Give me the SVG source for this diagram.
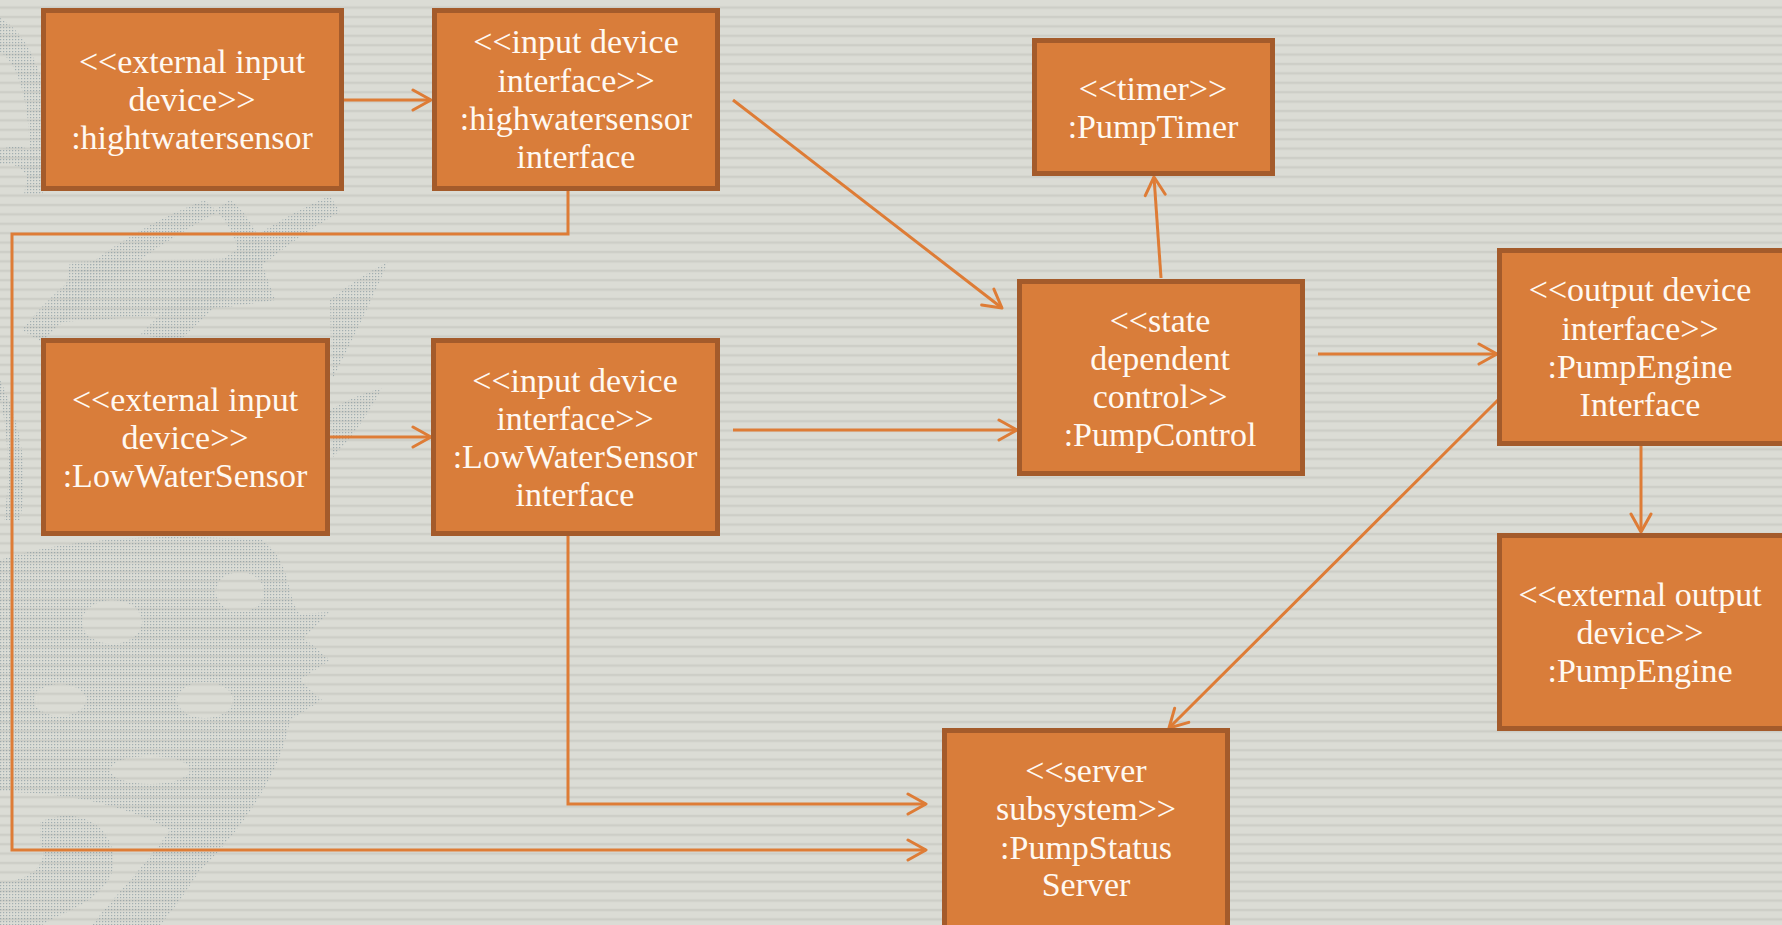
<svg xmlns="http://www.w3.org/2000/svg" width="1782" height="925" viewBox="0 0 1782 925">
  <defs>
    <pattern id="stripes" width="40" height="9.4" patternUnits="userSpaceOnUse">
      <rect width="40" height="9.4" fill="#DBDCD5"/>
      <rect y="6.4" width="40" height="2.4" fill="#CDCEC7"/>
    </pattern>
    <pattern id="dots" width="3" height="3" patternUnits="userSpaceOnUse">
      <rect width="1.2" height="1.2" fill="#7C909A"/>
    </pattern>
    <marker id="arrow" viewBox="0 0 22 24" refX="20" refY="12" markerWidth="22" markerHeight="24" markerUnits="userSpaceOnUse" orient="auto">
      <path d="M2,2 L20,12 L2,22" fill="none" stroke="#DE7C36" stroke-width="3" stroke-linecap="round" stroke-linejoin="round"/>
    </marker>
    <style>
      .box { fill: #D97D3A; stroke: #A45B2B; stroke-width: 5; }
      .label { font-family: "Liberation Serif", "Times New Roman", serif; font-size: 34px; fill: #FFF9F2; text-anchor: middle; }
      .conn { fill: none; stroke: #DE7C36; stroke-width: 3; }
      .ornament { fill: url(#dots); opacity: 0.6; }
    </style>
  </defs>

  <!-- striped backdrop -->
  <rect width="1782" height="925" fill="url(#stripes)"/>

  <!-- dotted ornament along the left edge -->
  <g id="ornament" class="ornament">
    <path d="M0,18 C40,40 62,120 42,195 L24,195 C38,130 22,64 0,52 Z"/>
    <path d="M0,150 C20,140 40,150 50,175 L30,180 C22,165 10,162 0,165 Z"/>
    <path d="M22,330 C60,282 122,232 205,200 L218,212 C142,252 82,302 42,342 Z"/>
    <path d="M140,335 C190,284 246,232 330,196 L340,212 C272,250 222,300 180,340 Z"/>
    <path d="M70,262 L260,258 L275,300 C200,312 130,318 60,322 Z"/>
    <path d="M230,200 C250,215 262,240 265,262 L240,262 C238,240 228,222 215,210 Z"/>
    <path d="M330,300 C352,282 372,270 388,262 C372,300 352,340 332,380 Z"/>
    <path d="M330,410 C350,398 368,392 382,388 C366,418 350,440 332,458 Z"/>
    <path fill-rule="evenodd" d="M0,560 C60,540 150,532 262,540 C292,560 286,598 300,614 L330,612 L304,638 L330,660 L300,680 L322,700 L290,720 C280,780 232,840 200,870 C182,898 170,914 160,925 L92,925 C120,890 150,860 170,830 C120,802 60,792 0,792 Z M240,592 m-24,0 a24,20 0 1,0 48,0 a24,20 0 1,0 -48,0 Z M112,622 m-30,0 a30,22 0 1,0 60,0 a30,22 0 1,0 -60,0 Z M205,700 m-28,0 a28,18 0 1,0 56,0 a28,18 0 1,0 -56,0 Z M60,700 m-26,0 a26,16 0 1,0 52,0 a26,16 0 1,0 -52,0 Z M150,770 m-40,0 a40,14 0 1,0 80,0 a40,14 0 1,0 -80,0 Z"/>
    <path d="M40,822 C82,802 122,832 112,872 C102,902 62,912 42,925 L0,925 L0,882 C30,882 52,862 40,842 Z"/>
    <path d="M0,380 C20,420 30,470 20,520 L4,520 C12,470 6,420 0,400 Z"/>
  </g>

  <!-- connectors -->
  <g id="connectors">
    <path class="conn" d="M344,100 L431,100" marker-end="url(#arrow)"/>
    <path class="conn" d="M568,190 L568,234 L12,234 L12,850 L926,850" marker-end="url(#arrow)"/>
    <path class="conn" d="M733,100 L1002,308" marker-end="url(#arrow)"/>
    <path class="conn" d="M330,437 L431,437" marker-end="url(#arrow)"/>
    <path class="conn" d="M733,430 L1017,430" marker-end="url(#arrow)"/>
    <path class="conn" d="M568,536 L568,804 L926,804" marker-end="url(#arrow)"/>
    <path class="conn" d="M1161,278 L1154,177" marker-end="url(#arrow)"/>
    <path class="conn" d="M1318,354 L1497,354" marker-end="url(#arrow)"/>
    <path class="conn" d="M1498,400 L1169,728" marker-end="url(#arrow)"/>
    <path class="conn" d="M1641,446 L1641,532" marker-end="url(#arrow)"/>
  </g>

  <!-- nodes -->
  <g id="high-water-sensor">
    <rect class="box" x="43.5" y="10.5" width="298" height="178"/>
    <text class="label" x="192" y="73">&lt;&lt;external input</text>
    <text class="label" x="192" y="111">device&gt;&gt;</text>
    <text class="label" x="192" y="149">:hightwatersensor</text>
  </g>

  <g id="high-water-sensor-interface">
    <rect class="box" x="434.5" y="10.5" width="283" height="178"/>
    <text class="label" x="576" y="53">&lt;&lt;input device</text>
    <text class="label" x="576" y="92">interface&gt;&gt;</text>
    <text class="label" x="576" y="130">:highwatersensor</text>
    <text class="label" x="576" y="168">interface</text>
  </g>

  <g id="pump-timer">
    <rect class="box" x="1034.5" y="40.5" width="238" height="133"/>
    <text class="label" x="1153" y="100">&lt;&lt;timer&gt;&gt;</text>
    <text class="label" x="1153" y="138">:PumpTimer</text>
  </g>

  <g id="pump-control">
    <rect class="box" x="1019.5" y="281.5" width="283" height="192"/>
    <text class="label" x="1160" y="332">&lt;&lt;state</text>
    <text class="label" x="1160" y="370">dependent</text>
    <text class="label" x="1160" y="408">control&gt;&gt;</text>
    <text class="label" x="1160" y="446">:PumpControl</text>
  </g>

  <g id="pump-engine-interface">
    <rect class="box" x="1499.5" y="250.5" width="290" height="193"/>
    <text class="label" x="1640" y="301">&lt;&lt;output device</text>
    <text class="label" x="1640" y="340">interface&gt;&gt;</text>
    <text class="label" x="1640" y="378">:PumpEngine</text>
    <text class="label" x="1640" y="416">Interface</text>
  </g>

  <g id="pump-engine">
    <rect class="box" x="1499.5" y="535.5" width="290" height="193"/>
    <text class="label" x="1640" y="606">&lt;&lt;external output</text>
    <text class="label" x="1640" y="644">device&gt;&gt;</text>
    <text class="label" x="1640" y="682">:PumpEngine</text>
  </g>

  <g id="low-water-sensor">
    <rect class="box" x="43.5" y="340.5" width="284" height="193"/>
    <text class="label" x="185" y="411">&lt;&lt;external input</text>
    <text class="label" x="185" y="449">device&gt;&gt;</text>
    <text class="label" x="185" y="487">:LowWaterSensor</text>
  </g>

  <g id="low-water-sensor-interface">
    <rect class="box" x="433.5" y="340.5" width="284" height="193"/>
    <text class="label" x="575" y="392">&lt;&lt;input device</text>
    <text class="label" x="575" y="430">interface&gt;&gt;</text>
    <text class="label" x="575" y="468">:LowWaterSensor</text>
    <text class="label" x="575" y="506">interface</text>
  </g>

  <g id="pump-status-server">
    <rect class="box" x="944.5" y="730.5" width="283" height="210"/>
    <text class="label" x="1086" y="782">&lt;&lt;server</text>
    <text class="label" x="1086" y="820">subsystem&gt;&gt;</text>
    <text class="label" x="1086" y="859">:PumpStatus</text>
    <text class="label" x="1086" y="896">Server</text>
  </g>
</svg>
